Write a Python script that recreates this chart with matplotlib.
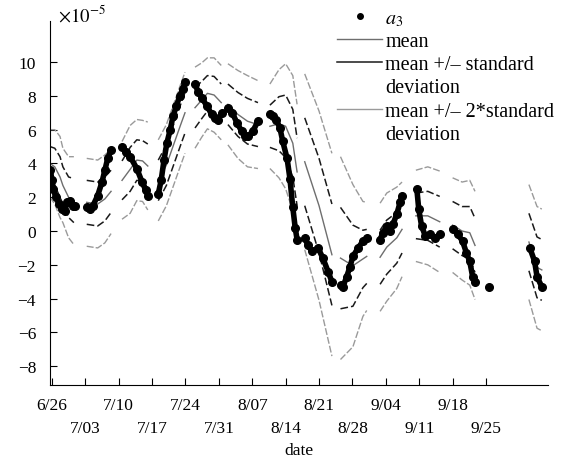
import numpy as np
import matplotlib
matplotlib.use("Agg")
import matplotlib.pyplot as plt
from matplotlib.lines import Line2D

nan = np.nan
# a3 observations (units of 1e-5), day offset from 6/26; NaN separates gaps
a3_day = [-0.3, 0.0, 0.3, 0.8, 1.5, 2.2, 2.7, 3.2, 3.8, 4.4, 4.8, nan,
          7.3, 8.0, 8.6, 9.6, 10.5, 11.1, 11.7, 12.4, nan,
          14.7, 15.5, 16.4, 17.8, 18.9, 19.7, 20.1, nan,
          22.3, 22.9, 23.5, 24.1, 24.8, 25.4, 26.1, 26.8, 27.4, 27.9, nan,
          30.0, 30.7, 31.4, 32.5, 33.5, 34.2, 34.8, 35.6, nan,
          36.9, 37.8, 38.8, 39.8, 40.5, 41.1, 42.1, 43.2, nan,
          45.7, 46.3, 47.0, 47.8, 48.4, 49.3, 49.9, 50.5, 51.0, 51.4, nan,
          53.0, 53.6, 54.5, 55.8, 56.8, 57.9, 58.7, nan,
          60.5, 61.0, 61.8, 62.5, 63.1, 64.2, 65.2, 66.0, nan,
          68.8, 69.4, 70.2, 70.9, 71.5, 72.3, 73.0, 73.4, nan,
          76.5, 76.9, 77.5, 78.3, 79.3, 80.3, 81.3, nan,
          84.1, 85.1, 86.1, 86.9, 87.6, 88.2, 88.7, nan,
          91.6, nan,
          100.2, 101.2, 101.7, 102.7]
a3_val = [3.6, 3.0, 2.5, 2.0, 1.6, 1.3, 1.2, 1.7, 1.8, 1.5, 1.5, nan,
          1.4, 1.3, 1.5, 2.1, 2.9, 3.6, 4.3, 4.8, nan,
          5.0, 4.7, 4.4, 3.7, 2.9, 2.4, 2.1, nan,
          2.2, 3.0, 4.2, 5.2, 6.0, 6.8, 7.4, 8.0, 8.4, 8.8, nan,
          8.7, 8.2, 7.9, 7.4, 6.9, 6.7, 6.6, 7.0, nan,
          7.3, 7.0, 6.4, 5.9, 5.6, 5.6, 5.9, 6.5, nan,
          6.9, 6.8, 6.6, 6.1, 5.3, 4.3, 3.1, 1.4, 0.2, -0.5, nan,
          -0.4, -0.8, -1.2, -1.0, -1.6, -2.4, -3.0, nan,
          -3.2, -3.3, -2.7, -2.1, -1.5, -1.0, -0.6, -0.4, nan,
          -0.5, -0.1, 0.3, 0.0, 0.4, 1.0, 1.7, 2.1, nan,
          2.5, 1.3, 0.3, -0.3, -0.2, -0.4, -0.2, nan,
          0.1, -0.2, -0.6, -1.3, -1.8, -2.7, -3.0, nan,
          -3.3, nan,
          -1.0, -1.8, -2.7, -3.3]

# climatological mean and standard deviation (units of 1e-5)
band_day = [-0.4, 0.6, 1.7, 2.3, 3.5, 4.6, nan,
            7.3, 9.6, 11.1, 12.4, nan,
            14.7, 16.4, 17.8, 19.0, 20.1, nan,
            22.3, 24.0, 25.5, 27.0, 27.9, nan,
            30.0, 31.4, 32.6, 34.0, 35.5, nan,
            36.9, 39.0, 41.0, 43.2, nan,
            45.7, 47.6, 49.0, 50.5, 51.4, nan,
            53.0, 56.0, 58.7, nan,
            60.5, 63.1, 65.2, 66.0, nan,
            68.8, 70.2, 72.3, 73.4, nan,
            76.3, 78.8, 81.3, nan,
            84.0, 86.0, 87.6, 88.7, nan,
            100.0, 101.7, 102.7]
band_mean = [4.0, 3.8, 3.2, 2.7, 2.0, 1.8, nan,
             1.7, 1.6, 1.9, 2.35, nan,
             3.0, 3.65, 4.2, 4.15, 3.85, nan,
             3.0, 3.9, 5.1, 6.3, 7.0, nan,
             7.3, 7.75, 8.15, 8.05, 7.6, nan,
             7.5, 6.9, 6.5, 6.3, nan,
             6.2, 6.35, 6.2, 5.2, 3.5, nan,
             4.1, 1.5, -1.4, nan,
             -1.6, -2.05, -1.65, -1.5, nan,
             -1.55, -0.95, -0.4, 0.1, nan,
             0.9, 0.9, 0.55, nan,
             0.35, 0.0, -0.1, -0.85, nan,
             -0.65, -2.15, -2.3]
band_std = [1.0, 1.1, 1.2, 1.1, 1.2, 1.3, nan,
            1.3, 1.3, 1.3, 1.25, nan,
            1.15, 1.3, 1.2, 1.2, 1.3, nan,
            1.2, 1.2, 1.2, 1.2, 1.2, nan,
            1.2, 1.1, 1.05, 1.1, 1.1, nan,
            1.2, 1.3, 1.35, 1.3, nan,
            1.25, 1.6, 1.85, 2.0, 2.0, nan,
            2.6, 2.8, 3.0, nan,
            3.0, 2.4, 1.7, 1.6, nan,
            1.6, 1.6, 1.5, 1.4, nan,
            1.35, 1.45, 1.5, nan,
            1.4, 1.45, 1.55, 1.6, nan,
            1.7, 1.8, 1.8]

tick_days = [0, 7, 14, 21, 28, 35, 42, 49, 56, 63, 70, 77, 84, 91]
tick_labels = ["6/26", "7/03", "7/10", "7/17", "7/24", "7/31", "8/07",
               "8/14", "8/21", "8/28", "9/04", "9/11", "9/18", "9/25"]
y_ticks = [-8, -6, -4, -2, 0, 2, 4, 6, 8, 10]

plt.rcParams['font.family'] = ['Liberation Serif', 'DejaVu Serif']
plt.rcParams['mathtext.fontset'] = 'stix'
plt.rcParams['font.size'] = 12.5

fig = plt.figure(figsize=(5.67, 4.64), dpi=100)
ax = fig.add_axes([50/567, 1-386/464, (548-50)/567, (386-22)/464])

bd = np.array(band_day, dtype=float)
bm = np.array(band_mean, dtype=float)
bs = np.array(band_std, dtype=float)

c_mean = '#6e6e6e'
c_std = '#1a1a1a'
c_2std = '#9a9a9a'

for k in (2, -2):
    ax.plot(bd, bm + k*bs, color=c_2std, lw=1.0, ls=(0, (5, 1.5)))
for k in (1, -1):
    ax.plot(bd, bm + k*bs, color=c_std, lw=1.1, ls=(0, (5, 2)))
ax.plot(bd, bm, color=c_mean, lw=1.0)
ax.plot(a3_day, a3_val, color='black', lw=4.0, marker='o', ms=5.5,
        solid_capstyle='round')

ax.set_xlim(-0.4, 104)
ax.set_ylim(-9.11, 12.43)
ax.spines['top'].set_visible(False)
ax.spines['right'].set_visible(False)
ax.set_yticks(y_ticks)
ax.set_yticklabels([str(v) if v >= 0 else '\u2212' + str(-v) for v in y_ticks])
ax.set_xticks(tick_days[0::2])
ax.set_xticklabels(tick_labels[0::2])
ax.set_xticks(tick_days[1::2], minor=True)
ax.set_xticklabels(tick_labels[1::2], minor=True)
ax.tick_params(axis='both', which='both', direction='in', length=5, width=0.8, labelsize=12.5)
ax.tick_params(axis='x', which='major', pad=9)
ax.tick_params(axis='x', which='minor', pad=25.5)
ax.tick_params(axis='y', pad=10)
ax.set_xlabel('date', fontsize=12.5, labelpad=4)
ax.text(0.016, 1.02, r'$\times 10^{-5}$', transform=ax.transAxes, fontsize=13.5,
        va='center', ha='left')

handles = [Line2D([], [], ls='none', marker='o', color='black', ms=4),
           Line2D([], [], color=c_mean, lw=1.0),
           Line2D([], [], color=c_std, lw=1.1),
           Line2D([], [], ls='none'),
           Line2D([], [], color=c_2std, lw=1.0),
           Line2D([], [], ls='none')]
labels = [r'$a_3$', 'mean', 'mean +/\u2013 standard', 'deviation',
          'mean +/\u2013 2*standard', 'deviation']
fig.legend(handles, labels, loc='upper left', bbox_to_anchor=(337/567, 1-10/464),
           frameon=False, borderpad=0, borderaxespad=0, handlelength=2.25,
           handletextpad=0.15, labelspacing=0.2, fontsize=14.5)

fig.savefig('out.png', dpi=100)
